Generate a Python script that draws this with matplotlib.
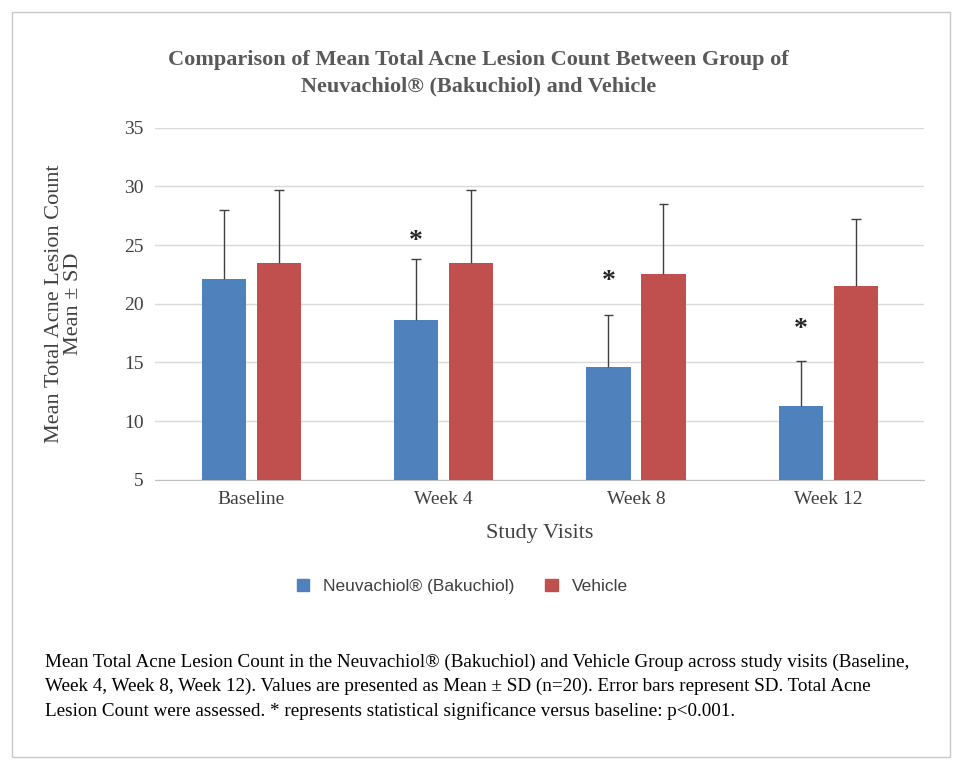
import numpy as np
import matplotlib.pyplot as plt
import matplotlib.patches as mpatches

# DATA
visits = ["Baseline", "Week 4", "Week 8", "Week 12"]
bakuchiol_mean = [22.1, 18.6, 14.6, 11.3]
bakuchiol_sd = [5.9, 5.2, 4.4, 3.8]
vehicle_mean = [23.5, 23.5, 22.5, 21.5]
vehicle_sd = [6.2, 6.2, 6.0, 5.7]
star_y = [None, 25.3, 21.9, 17.8]

blue = '#4f81bd'
red = '#c0504d'
serif = ['Liberation Serif', 'DejaVu Serif']

fig = plt.figure(figsize=(9.63, 7.7), dpi=100)
fig.add_artist(mpatches.Rectangle((12/963, 1-757/770), 938/963, 745/770, transform=fig.transFigure,
                                  fill=False, edgecolor='#c8c8c8', linewidth=1))
ax = fig.add_axes([0.161, 0.377, 0.799, 0.457])

x = np.arange(len(visits))
w = 0.23
ax.bar(x - 0.143, bakuchiol_mean, width=w, color=blue, zorder=3)
ax.bar(x + 0.143, vehicle_mean, width=w, color=red, zorder=3)
# one-sided error bars (upper only) with a small cap at the top
for means, sds, off in [(bakuchiol_mean, bakuchiol_sd, -0.143), (vehicle_mean, vehicle_sd, 0.143)]:
    tops = np.array(means) + np.array(sds)
    ax.vlines(x + off, means, tops, color='#404040', linewidth=1, zorder=4)
    ax.hlines(tops, x + off - 0.025, x + off + 0.025, color='#404040', linewidth=1, zorder=4)
for xi, sy in zip(x, star_y):
    if sy is not None:
        ax.text(xi - 0.143, sy, '*', ha='center', va='center', fontsize=20,
                family=serif, fontweight='bold', color='#262626')

ax.set_ylim(5, 35)
ax.set_xlim(-0.5, 3.5)
ax.set_yticks(range(5, 36, 5))
ax.set_xticks(x)
ax.set_xticklabels(visits)
ax.grid(axis='y', color='#d9d9d9', linewidth=1, zorder=0)
for s in ['top', 'right', 'left']:
    ax.spines[s].set_visible(False)
ax.spines['bottom'].set_color('#bfbfbf')
ax.tick_params(length=0, labelsize=14, labelcolor='#404040', pad=8)
for lab in ax.get_xticklabels() + ax.get_yticklabels():
    lab.set_family(serif)
ax.set_xlabel("Study Visits", fontsize=16, family=serif, color='#404040', labelpad=12)
ax.set_ylabel("Mean Total Acne Lesion Count\nMean ± SD", fontsize=16, family=serif,
              color='#404040', linespacing=1.0, labelpad=30)

fig.text(0.497, 0.905, "Comparison of Mean Total Acne Lesion Count Between Group of\n"
         "Neuvachiol® (Bakuchiol) and Vehicle", ha='center', va='center', fontsize=16,
         fontweight='bold', family=serif, color='#595959', linespacing=1.4)

bp = mpatches.Patch(color=blue, label="Neuvachiol® (Bakuchiol)")
rp = mpatches.Patch(color=red, label="Vehicle")
fig.legend(handles=[bp, rp], loc='center', bbox_to_anchor=(0.48, 0.238), ncol=2, frameon=False,
           prop={'family': 'Liberation Sans', 'size': 12.5}, handlelength=0.7, handleheight=0.7,
           columnspacing=1.8, labelcolor='#404040')

fig.text(45/963, 0.108, "Mean Total Acne Lesion Count in the Neuvachiol® (Bakuchiol) and Vehicle Group across study visits (Baseline,\n"
         "Week 4, Week 8, Week 12). Values are presented as Mean ± SD (n=20). Error bars represent SD. Total Acne\n"
         "Lesion Count were assessed. * represents statistical significance versus baseline: p<0.001.",
         ha='left', va='center', fontsize=13.8, family=serif, color='black', linespacing=1.5)

fig.savefig('out.png', dpi=100)
